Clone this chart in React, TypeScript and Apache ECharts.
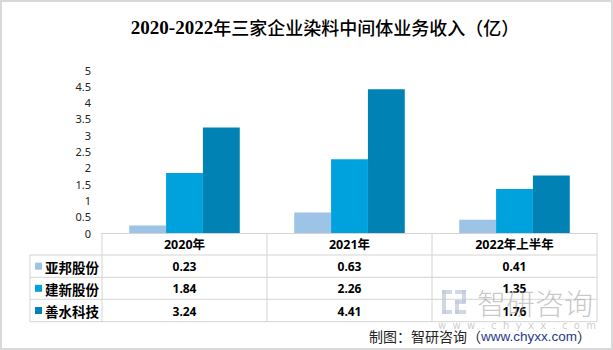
import React, { useEffect, useRef } from "react";
import * as echarts from "echarts";

const categories = ["2020年", "2021年", "2022年上半年"];
const seriesNames = ["亚邦股份", "建新股份", "善水科技"];
const yabang = [0.23, 0.63, 0.41];
const jianxin = [1.84, 2.26, 1.35];
const shanshui = [3.24, 4.41, 1.76];
const seriesValues = [yabang, jianxin, shanshui];
const colors = ["#9DC3E6", "#00A2DE", "#0083B4"];

const W = 613;
const H = 350;
const GRID_LEFT = 102;
const GRID_RIGHT = 597;
const GRID_TOP = 70;
const AXIS_Y = 233;
const TABLE_LEFT = 30;
const ROW_LINES = [233, 255, 277.3, 299.3, 321.7];
const LINE_COLOR = "#D4D4D4";

export default function App() {
  const ref = useRef<HTMLDivElement>(null);

  useEffect(() => {
    if (!ref.current) return;
    const chart = echarts.init(ref.current, null, { renderer: "svg" });
    const catW = (GRID_RIGHT - GRID_LEFT) / categories.length;
    const graphics: any[] = [];

    // outer frame
    graphics.push({
      type: "rect",
      shape: { x: 1, y: 1, width: W - 2, height: H - 2 },
      style: { fill: "none", stroke: "#D9D9D9", lineWidth: 2 },
      silent: true,
    });

    // title
    graphics.push({
      type: "text",
      x: 325,
      y: 27,
      style: {
        text: "{a|2020-2022}{b|年三家企业染料中间体业务收入（亿）}",
        align: "center",
        verticalAlign: "middle",
        rich: {
          a: { fontFamily: "Liberation Serif", fontWeight: "bold", fontSize: 19, fill: "#000" },
          b: { fontFamily: "Noto Sans CJK SC", fontWeight: 500, fontSize: 18, fill: "#000" },
        },
      },
    });

    // table lines
    const lineStyle = { stroke: LINE_COLOR, lineWidth: 1 };
    ROW_LINES.forEach((y, i) => {
      if (i === 0) return;
      graphics.push({
        type: "line",
        shape: { x1: TABLE_LEFT, y1: y, x2: GRID_RIGHT, y2: y },
        style: lineStyle,
        silent: true,
      });
    });
    graphics.push({
      type: "line",
      shape: { x1: TABLE_LEFT, y1: ROW_LINES[1], x2: TABLE_LEFT, y2: ROW_LINES[4] },
      style: lineStyle,
    });
    for (let i = 0; i <= categories.length; i++) {
      const x = GRID_LEFT + catW * i;
      graphics.push({
        type: "line",
        shape: { x1: x, y1: ROW_LINES[0], x2: x, y2: ROW_LINES[4] },
        style: lineStyle,
      });
    }

    // header
    categories.forEach((c, i) => {
      graphics.push({
        type: "text",
        x: GRID_LEFT + catW * (i + 0.5),
        y: (ROW_LINES[0] + ROW_LINES[1]) / 2 + 0.5,
        style: {
          text: c,
          align: "center",
          verticalAlign: "middle",
          fontFamily: "Noto Sans, Noto Sans CJK SC",
          fontWeight: "bold",
          fontSize: 12.5,
          fill: "#000",
        },
      });
    });

    // rows
    seriesNames.forEach((name, r) => {
      const cy = (ROW_LINES[r + 1] + ROW_LINES[r + 2]) / 2;
      graphics.push({
        type: "rect",
        shape: { x: 35, y: cy - 3.5, width: 7, height: 7 },
        style: { fill: colors[r] },
      });
      graphics.push({
        type: "text",
        x: 45,
        y: cy + 0.5,
        style: {
          text: name,
          align: "left",
          verticalAlign: "middle",
          fontFamily: "Noto Sans CJK SC",
          fontWeight: "bold",
          fontSize: 13.5,
          fill: "#000",
        },
      });
      seriesValues[r].forEach((v, i) => {
        graphics.push({
          type: "text",
          x: GRID_LEFT + catW * (i + 0.5),
          y: cy + 0.5,
          style: {
            text: v.toFixed(2),
            align: "center",
            verticalAlign: "middle",
            fontFamily: "Noto Sans",
            fontWeight: "bold",
            fontSize: 12,
            fill: "#000",
          },
        });
      });
    });

    // watermark
    const wm = "#9a9a9a";
    const logoFill = { fill: "#bcc7da", opacity: 0.7 };
    graphics.push({
      type: "group",
      x: 442,
      y: 290,
      silent: true,
      children: [
        { type: "rect", shape: { x: 0, y: 0, width: 10, height: 4 }, style: logoFill },
        { type: "rect", shape: { x: 0, y: 0, width: 4, height: 24 }, style: logoFill },
        { type: "rect", shape: { x: 0, y: 20, width: 10, height: 4 }, style: logoFill },
        { type: "rect", shape: { x: 13, y: 0, width: 11, height: 4 }, style: logoFill },
        { type: "rect", shape: { x: 20, y: 0, width: 4, height: 13 }, style: logoFill },
        { type: "rect", shape: { x: 13, y: 10, width: 11, height: 4 }, style: logoFill },
        { type: "rect", shape: { x: 13, y: 10, width: 4, height: 14 }, style: logoFill },
        { type: "rect", shape: { x: 13, y: 20, width: 11, height: 4 }, style: logoFill },
      ],
    });
    graphics.push({
      type: "text",
      x: 535,
      y: 302,
      silent: true,
      style: {
        text: "智研咨询",
        align: "center",
        verticalAlign: "middle",
        fontFamily: "Noto Sans CJK SC",
        fontWeight: 300,
        fontSize: 29,
        fill: wm,
        opacity: 0.55,
      },
    });
    graphics.push({
      type: "text",
      x: 517,
      y: 325,
      silent: true,
      style: {
        text: "w  w  w  .  c  h  y  x  x  .  c  o  m",
        align: "center",
        verticalAlign: "middle",
        fontFamily: "DejaVu Sans",
        fontSize: 10,
        fill: wm,
        opacity: 0.5,
      },
    });

    // source
    graphics.push({
      type: "text",
      x: 591,
      y: 336,
      style: {
        text: "{a|制图：智研咨询（}{b|www.chyxx.com}{a|）}",
        align: "right",
        verticalAlign: "middle",
        rich: {
          a: { fontFamily: "Noto Sans CJK SC", fontSize: 14, fill: "#222" },
          b: { fontFamily: "Liberation Sans", fontSize: 13.5, fill: "#1F3A8A" },
        },
      },
    });

    chart.setOption({
      animation: false,
      backgroundColor: "#fff",
      grid: {
        left: GRID_LEFT,
        right: W - GRID_RIGHT,
        top: GRID_TOP,
        bottom: H - AXIS_Y,
        containLabel: false,
      },
      xAxis: {
        type: "category",
        data: categories,
        axisLine: { lineStyle: { color: LINE_COLOR } },
        axisTick: { show: false },
        axisLabel: { show: false },
      },
      yAxis: {
        type: "value",
        min: 0,
        max: 5,
        interval: 0.5,
        splitLine: { show: false },
        axisLine: { show: false },
        axisTick: { show: false },
        axisLabel: {
          fontFamily: "Noto Sans",
          fontSize: 11,
          color: "#222",
          margin: 11,
        },
      },
      series: seriesNames.map((name, i) => ({
        name,
        type: "bar",
        data: seriesValues[i],
        barGap: "0%",
        barCategoryGap: "33%",
        itemStyle: { color: colors[i] },
      })),
      graphic: graphics,
    });

    return () => chart.dispose();
  }, []);

  return (
    <div
      ref={ref}
      style={{ position: "absolute", left: 0, top: 0, width: W, height: H }}
    />
  );
}
